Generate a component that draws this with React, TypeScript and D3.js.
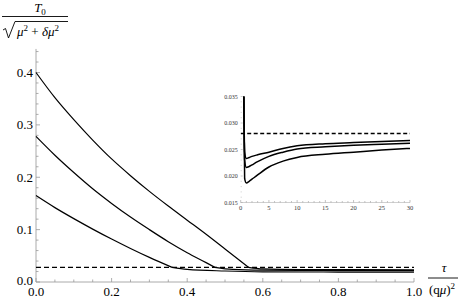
import React from "react";
import * as d3 from "d3";

// main plot: three curves (tau vs T0 / sqrt(mu^2 + dmu^2)), descending part then flat tail
const tauTop = [0, 0.05, 0.1, 0.15, 0.2, 0.25, 0.3, 0.35, 0.4, 0.45, 0.5, 0.562];
const valTop = [0.4, 0.352, 0.31, 0.271, 0.235, 0.203, 0.173, 0.145, 0.118, 0.091, 0.063, 0.028];
const tailTauTop = [0.562, 0.6, 0.7, 0.85, 1.0];
const tailValTop = [0.028, 0.025, 0.0238, 0.0235, 0.0233];

const tauMid = [0, 0.05, 0.1, 0.15, 0.2, 0.25, 0.3, 0.35, 0.4, 0.45, 0.473];
const valMid = [0.278, 0.242, 0.209, 0.178, 0.15, 0.124, 0.1, 0.077, 0.056, 0.037, 0.028];
const tailTauMid = [0.473, 0.52, 0.6, 0.8, 1.0];
const tailValMid = [0.028, 0.024, 0.0225, 0.0218, 0.0216];

const tauLow = [0, 0.05, 0.1, 0.15, 0.2, 0.25, 0.3, 0.36];
const valLow = [0.165, 0.142, 0.121, 0.101, 0.082, 0.064, 0.047, 0.028];
const tailTauLow = [0.36, 0.4, 0.5, 0.6, 0.8, 1.0];
const tailValLow = [0.028, 0.024, 0.021, 0.0195, 0.019, 0.0187];

const dashedLevel = 0.028;

// inset: same curves over a wider tau range
const insetX = [0.55, 0.7, 1.0, 1.5, 2, 3, 5, 7.5, 10, 15, 20, 25, 30];
const insetTop = [0.0355, 0.0245, 0.0233, 0.0235, 0.0237, 0.024, 0.0245, 0.0252, 0.0257, 0.0261, 0.0263, 0.0265, 0.0267];
const insetMid = [0.0355, 0.023, 0.0216, 0.0218, 0.0221, 0.0227, 0.0237, 0.0245, 0.0251, 0.0255, 0.0258, 0.026, 0.0262];
const insetLow = [0.0355, 0.0195, 0.0187, 0.019, 0.0194, 0.0202, 0.0217, 0.0228, 0.0235, 0.0241, 0.0245, 0.0249, 0.0252];

const xTicks = [0, 0.2, 0.4, 0.6, 0.8, 1.0];
const yTicks = [0, 0.1, 0.2, 0.3, 0.4];
const insetXTicks = [0, 5, 10, 15, 20, 25, 30];
const insetYTicks = [0.015, 0.02, 0.025, 0.03, 0.035];

const FONT = "Tinos, 'Times New Roman', 'Liberation Serif', 'DejaVu Serif', Times, serif";
const tx = { fontFamily: FONT };

export default function App() {
  const x = d3.scaleLinear().domain([0, 1]).range([36, 414]);
  const y = d3.scaleLinear().domain([0, 0.4]).range([282, 72.5]);
  const ix = d3.scaleLinear().domain([0, 30]).range([240.7, 410]);
  const iy = d3.scaleLinear().domain([0.015, 0.035]).range([202.5, 96.5]);

  const line = d3
    .line<[number, number]>()
    .x((d) => x(d[0]))
    .y((d) => y(d[1]))
    .curve(d3.curveMonotoneX);
  const iline = d3
    .line<[number, number]>()
    .x((d) => ix(d[0]))
    .y((d) => iy(d[1]))
    .curve(d3.curveMonotoneX);

  const mainSeries = [
    d3.zip(tauTop, valTop),
    d3.zip(tailTauTop, tailValTop),
    d3.zip(tauMid, valMid),
    d3.zip(tailTauMid, tailValMid),
    d3.zip(tauLow, valLow),
    d3.zip(tailTauLow, tailValLow),
  ] as [number, number][][];
  const insetSeries = [
    d3.zip(insetX, insetTop),
    d3.zip(insetX, insetMid),
    d3.zip(insetX, insetLow),
  ] as [number, number][][];

  const xMinor = d3.range(0, 1.0001, 0.05);
  const yMinor = d3.range(0, 0.4401, 0.02);
  const ixMinor = d3.range(0, 30.001, 1);
  const iyMinor = d3.range(0.015, 0.0351, 0.001);

  return (
    <svg
      width={463}
      height={300}
      style={{ position: "absolute", left: 0, top: 0, background: "#fff", fontFamily: FONT }}
    >
      <defs>
        <clipPath id="inset-clip">
          <rect x={ix(0)} y={iy(0.035)} width={ix(30) - ix(0) + 2} height={iy(0.015) - iy(0.035)} />
        </clipPath>
      </defs>

      {/* main axes */}
      <line x1={x(0)} x2={x(1)} y1={y(0)} y2={y(0)} stroke="#aaa" strokeWidth={1} />
      <line x1={x(0)} x2={x(0)} y1={y(0)} y2={y(0.445)} stroke="#aaa" strokeWidth={1} />
      {xMinor.map((t, i) => (
        <line key={"xm" + i} x1={x(t)} x2={x(t)} y1={y(0)} y2={y(0) - (i % 4 === 0 ? 4 : 2.5)} stroke="#999" strokeWidth={0.8} />
      ))}
      {yMinor.map((t, i) => (
        <line key={"ym" + i} x1={x(0)} x2={x(0) + (i % 5 === 0 ? 4 : 2.5)} y1={y(t)} y2={y(t)} stroke="#999" strokeWidth={0.8} />
      ))}
      {xTicks.map((t) => (
        <text key={"xt" + t} style={tx} x={x(t)} y={296} fontSize={13} textAnchor="middle">
          {t.toFixed(1)}
        </text>
      ))}
      {yTicks.map((t) => (
        <text key={"yt" + t} style={tx} x={33} y={y(t) + (t === 0 ? 3 : 4.5)} fontSize={13} textAnchor="end">
          {t.toFixed(1)}
        </text>
      ))}

      {/* dashed reference level */}
      <line
        x1={x(0)}
        x2={x(1)}
        y1={y(dashedLevel)}
        y2={y(dashedLevel)}
        stroke="#000"
        strokeWidth={1.3}
        strokeDasharray="5,3"
      />
      {mainSeries.map((s, i) => (
        <path key={"m" + i} d={line(s) || ""} fill="none" stroke="#000" strokeWidth={1.2} />
      ))}

      {/* inset */}
      <line x1={ix(0)} x2={ix(30)} y1={iy(0.015)} y2={iy(0.015)} stroke="#bbb" strokeWidth={0.7} />
      {ixMinor.map((t, i) => (
        <line key={"ixm" + i} x1={ix(t)} x2={ix(t)} y1={iy(0.015)} y2={iy(0.015) - (i % 5 === 0 ? 2.5 : 1.5)} stroke="#999" strokeWidth={0.6} />
      ))}
      {iyMinor.map((t, i) => (
        <line key={"iym" + i} x1={ix(0)} x2={ix(0) + (i % 5 === 0 ? 2 : 1)} y1={iy(t)} y2={iy(t)} stroke="#aaa" strokeWidth={0.6} />
      ))}
      {insetXTicks.map((t) => (
        <text key={"ixt" + t} style={tx} x={ix(t)} y={iy(0.015) + 7} fontSize={6.5} textAnchor="middle" fill="#333">
          {t}
        </text>
      ))}
      {insetYTicks.map((t) => (
        <text key={"iyt" + t} style={tx} x={ix(0) - 3} y={iy(t) + 2} fontSize={6} textAnchor="end" fill="#333">
          {t.toFixed(3)}
        </text>
      ))}
      <g clipPath="url(#inset-clip)">
        <line
          x1={ix(0)}
          x2={ix(30)}
          y1={iy(dashedLevel)}
          y2={iy(dashedLevel)}
          stroke="#000"
          strokeWidth={1.5}
          strokeDasharray="4,2.5"
        />
        {insetSeries.map((s, i) => (
          <path key={"i" + i} d={iline(s) || ""} fill="none" stroke="#000" strokeWidth={1.5} />
        ))}
      </g>

      {/* y label: T0 / sqrt(mu^2 + dmu^2) */}
      <text style={tx} x={40} y={12} fontSize={13} textAnchor="middle" fontStyle="italic">
        T<tspan fontSize={9} dy={3} fontStyle="normal">0</tspan>
      </text>
      <line x1={2} x2={68} y1={16.5} y2={16.5} stroke="#000" strokeWidth={0.9} />
      <path d="M3,30 L5.5,28.5 L8.5,38 L15,21.5 L68,21.5" fill="none" stroke="#000" strokeWidth={0.9} />
      <text style={tx} x={17} y={36} fontSize={13}>
        <tspan fontStyle="italic">μ</tspan>
        <tspan fontSize={9} dy={-5}>2</tspan>
        <tspan dy={5}> + </tspan>
        <tspan fontStyle="italic">δμ</tspan>
        <tspan fontSize={9} dy={-5}>2</tspan>
      </text>

      {/* x label: tau / (q mu)^2 */}
      <text style={tx} x={444} y={272} fontSize={13} textAnchor="middle" fontStyle="italic">
        τ
      </text>
      <line x1={428} x2={458} y1={278} y2={278} stroke="#000" strokeWidth={0.9} />
      <text style={tx} x={442} y={294} fontSize={13} textAnchor="middle">
        (q<tspan fontStyle="italic">μ</tspan>)<tspan fontSize={9} dy={-5}>2</tspan>
      </text>
    </svg>
  );
}
